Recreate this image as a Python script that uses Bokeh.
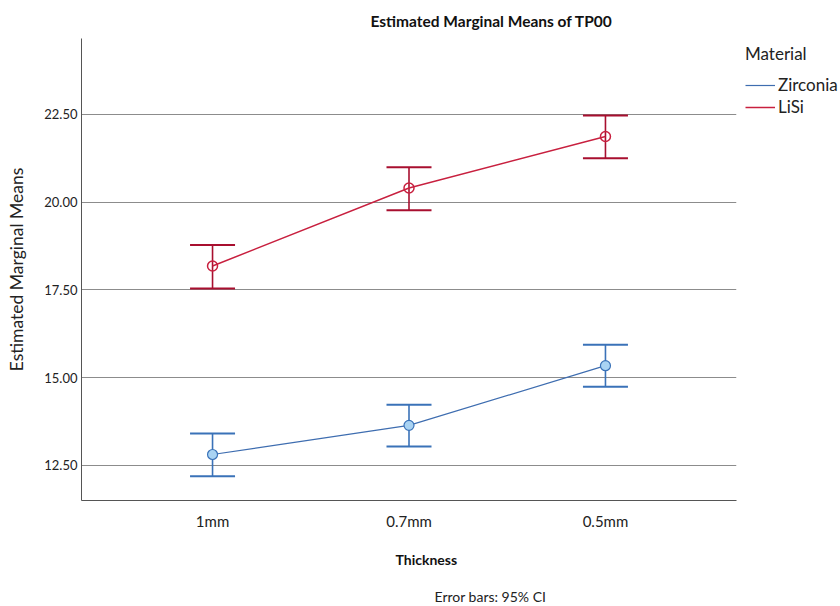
from bokeh.plotting import figure
from bokeh.models import (ColumnDataSource, Whisker, TeeHead, Legend, LegendItem, Title,
                          FixedTicker, Range1d, PrintfTickFormatter)
from bokeh.embed import file_html
from bokeh.resources import INLINE

# ---- data ----
thickness = ["1mm", "0.7mm", "0.5mm"]
xpos = [0, 1, 2]
zirc_mean = [12.81, 13.64, 15.34]
zirc_lower = [12.19, 13.04, 14.74]
zirc_upper = [13.41, 14.23, 15.94]
lisi_mean = [18.18, 20.40, 21.87]
lisi_lower = [17.54, 19.77, 21.25]
lisi_upper = [18.78, 20.99, 22.47]
y_ticks = [12.5, 15.0, 17.5, 20.0, 22.5]

FONT = "Lato"

p = figure(frame_width=655, frame_height=462, output_backend="svg", toolbar_location=None,
           x_range=Range1d(-0.667, 2.667), y_range=Range1d(11.5, 24.66),
           min_border_left=81, min_border_top=38, min_border_right=102, min_border_bottom=96)

p.background_fill_color = "white"
p.outline_line_color = None

# title
p.title.text = "Estimated Marginal Means of TP00"
p.title.text_font = FONT
p.title.text_font_size = "15.5px"
p.title.text_font_style = "bold"
p.title.align = "left"
p.title.offset = 289
p.title.standoff = 18
p.title.text_color = "#111111"

# axes
p.xaxis.ticker = FixedTicker(ticks=xpos)
p.xaxis.major_label_overrides = {x: t for x, t in zip(xpos, thickness)}
p.yaxis.ticker = FixedTicker(ticks=y_ticks)
p.yaxis.formatter = PrintfTickFormatter(format="%.2f")
for ax in (p.xaxis, p.yaxis):
    ax.major_tick_in = 0
    ax.major_tick_out = 0
    ax.minor_tick_in = 0
    ax.minor_tick_out = 0
    ax.axis_line_color = "#555555"
    ax.axis_line_width = 1
    ax.major_label_text_font = FONT
    ax.major_label_text_color = "#222222"
p.xaxis.major_label_text_font_size = "15px"
p.xaxis.major_label_standoff = 11
p.yaxis.major_label_text_font_size = "13px"
p.yaxis.major_label_standoff = 4
p.yaxis.axis_label = "Estimated Marginal Means"
p.yaxis.axis_label_text_font = FONT
p.yaxis.axis_label_text_font_size = "17.5px"
p.yaxis.axis_label_text_font_style = "normal"
p.yaxis.axis_label_text_color = "#222222"
p.yaxis.axis_label_standoff = 14

p.xgrid.grid_line_color = None
p.ygrid.grid_line_color = "#8c8c8c"
p.ygrid.grid_line_width = 1

# below titles
t_x = Title(text="Thickness", align="left", offset=314, text_font=FONT,
            text_font_size="14px", text_font_style="bold", text_color="#111111",
            standoff=32)
p.add_layout(t_x, "below")
t_n = Title(text="Error bars: 95% CI", align="left", offset=353, text_font=FONT,
            text_font_size="14px", text_font_style="normal", text_color="#222222",
            standoff=4)
p.add_layout(t_n, "below")

zsrc = ColumnDataSource(dict(x=xpos, mean=zirc_mean, lower=zirc_lower, upper=zirc_upper))
lsrc = ColumnDataSource(dict(x=xpos, mean=lisi_mean, lower=lisi_lower, upper=lisi_upper))

Z_LINE = "#3e6db0"
Z_ERR = "#3a72b8"
Z_FILL = "#a9d3f3"
L_LINE = "#c8203f"
L_ERR = "#a80f2f"

zl = p.line("x", "mean", source=zsrc, line_color=Z_LINE, line_width=1.2)
ll = p.line("x", "mean", source=lsrc, line_color=L_LINE, line_width=1.5)

for src, col in ((zsrc, Z_ERR), (lsrc, L_ERR)):
    w = Whisker(base="x", upper="upper", lower="lower", source=src,
                line_color=col, line_width=1.6,
                upper_head=TeeHead(size=45, line_color=col, line_width=2),
                lower_head=TeeHead(size=45, line_color=col, line_width=2))
    p.add_layout(w)

p.scatter("x", "mean", source=zsrc, size=10, marker="circle",
          fill_color=Z_FILL, line_color=Z_ERR, line_width=1.2)
p.scatter("x", "mean", source=lsrc, size=10, marker="circle",
          fill_color="white", fill_alpha=0.0, line_color=L_LINE, line_width=1.5)

legend = Legend(items=[LegendItem(label="Zirconia", renderers=[zl]),
                       LegendItem(label="LiSi", renderers=[ll])],
                title="Material", location=(9, 383))
legend.title_text_font = FONT
legend.title_text_font_size = "17px"
legend.title_text_font_style = "normal"
legend.title_text_color = "#222222"
legend.title_standoff = 10
legend.label_text_font = FONT
legend.label_text_font_size = "17px"
legend.label_text_color = "#222222"
legend.border_line_color = None
legend.background_fill_alpha = 0
legend.margin = 0
legend.padding = 0
legend.spacing = 1
legend.glyph_width = 30
legend.glyph_height = 20
legend.label_height = 20
legend.label_standoff = 3
p.add_layout(legend, "right")

open("out.html", "w").write(file_html(p, INLINE))
